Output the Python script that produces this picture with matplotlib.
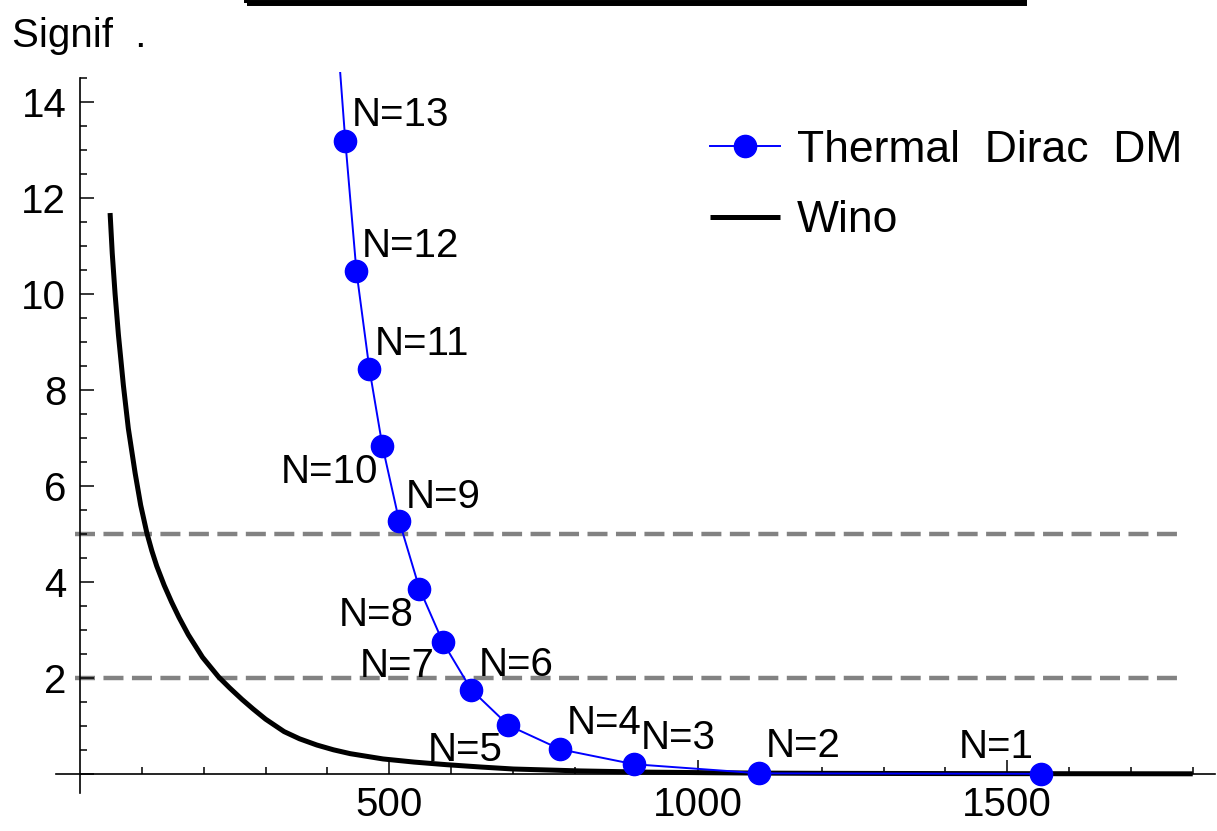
import matplotlib
matplotlib.use("Agg")
import matplotlib.pyplot as plt
from matplotlib.ticker import FixedLocator
from matplotlib.patches import Rectangle

plt.rcParams['font.family'] = ['Liberation Sans', 'DejaVu Sans']
plt.rcParams['lines.scale_dashes'] = False

# Thermal Dirac DM points (mass, significance); last entry lies above the plot range
dirac_labels = ["N=1", "N=2", "N=3", "N=4", "N=5", "N=6", "N=7", "N=8",
                "N=9", "N=10", "N=11", "N=12", "N=13", ""]
dirac_x = [1555, 1099, 896, 777, 693, 633, 587, 549, 516, 489, 468, 447, 429, 411]
dirac_y = [0.0, 0.01, 0.20, 0.51, 1.01, 1.75, 2.74, 3.86, 5.28, 6.84, 8.44, 10.48, 13.20, 16.3]
# label offsets in pixels (dx, dy of baseline relative to the point)
label_dx = [-45, 44, 44, 44, -43, 45, -46, -43, 44, -53, 53, 54, 55, 0]
label_dy = [16, 16, 15, 15, -36, 14, -35, -37, 13, -37, 14, 14, 15, 0]

# Wino curve samples
wino_x = [48.5, 52, 56.6, 62, 70, 78, 89, 98, 108, 116, 124, 136, 148, 160, 175, 198, 224,
          242, 262, 280, 300, 330, 355, 383, 410, 437, 490, 540, 593, 650, 701, 809,
          917, 1000, 1100, 1200, 1400, 1600, 1800]
wino_y = [11.69, 10.85, 10.0, 9.15, 8.1, 7.2, 6.27, 5.6, 5.02, 4.65, 4.33, 3.93, 3.58, 3.26,
          2.90, 2.43, 2.02, 1.79, 1.55, 1.35, 1.14, 0.88, 0.73, 0.6, 0.5, 0.42, 0.31,
          0.245, 0.19, 0.14, 0.10, 0.06, 0.035, 0.025, 0.015, 0.01, 0.005, 0.002, 0.0]

thresholds = [2, 5]
x_ticks = [500, 1000, 1500]
y_ticks = [0, 2, 4, 6, 8, 10, 12, 14]

W, H = 1217, 831
fig = plt.figure(figsize=(W / 100, H / 100), dpi=100)
ax = fig.add_axes([56 / W, 1 - 793 / H, (1215 - 56) / W, (793 - 72) / H])
ax.set_xlim(-39, 1836)
ax.set_ylim(-0.4, 14.63)

# threshold lines
for t in thresholds:
    ax.plot([-8, 1785], [t, t], color='#828282', lw=3.2, dashes=(14.4, 6.1),
            solid_capstyle='butt', dash_capstyle='butt', zorder=1)

# Wino
ax.plot(wino_x, wino_y, color='black', lw=3.6, label='Wino', zorder=3,
        solid_capstyle='butt', solid_joinstyle='round')

# Thermal Dirac DM
ax.plot(dirac_x, dirac_y, color='#0000ff', lw=1.4, marker='o', markersize=16,
        label='Thermal  Dirac  DM', zorder=4)

for lab, x, y, dx, dy in zip(dirac_labels, dirac_x, dirac_y, label_dx, label_dy):
    if lab:
        ax.annotate(lab, (x, y), xytext=(dx, dy), textcoords='offset pixels',
                    ha='center', va='baseline', fontsize=29, zorder=5)

# axes styling (Mathematica-like axes through origin)
for s in ['top', 'right']:
    ax.spines[s].set_visible(False)
ax.spines['left'].set_position(('data', 0))
ax.spines['bottom'].set_position(('data', 0))
ax.spines['left'].set_bounds(-0.4, 14.51)
ax.spines['left'].set_linewidth(1.2)
ax.spines['bottom'].set_linewidth(1.2)

ax.xaxis.set_major_locator(FixedLocator(x_ticks))
ax.xaxis.set_minor_locator(FixedLocator([v for v in range(100, 1801, 100) if v % 500]))
ax.yaxis.set_major_locator(FixedLocator(y_ticks))
ax.yaxis.set_minor_locator(FixedLocator([v / 2 for v in range(1, 30) if v % 4]))
ax.set_yticklabels(['' if v == 0 else str(v) for v in y_ticks])
ax.set_xticklabels([str(v) for v in x_ticks])

ax.tick_params(axis='both', which='major', direction='in', length=10, width=1.1,
               labelsize=29)
ax.tick_params(axis='both', which='minor', direction='in', length=5, width=1.1)
ax.tick_params(axis='y', which='major', pad=10)
ax.tick_params(axis='x', which='major', pad=9)

lines = ax.get_lines()
leg = ax.legend(handles=[lines[-1], lines[-2]],
                loc='upper left', bbox_to_anchor=(710 / W, 1 - 130 / H),
                bbox_transform=fig.transFigure, frameon=False, borderpad=0,
                borderaxespad=0, handlelength=1.58, handletextpad=0.38,
                labelspacing=0.66, fontsize=32)

# y-axis label
fig.text(12 / W, 1 - 47 / H, 'Signif  .', fontsize=29, ha='left', va='baseline')

# cut-off frame at top
fig.add_artist(Rectangle((247 / W, 1 - 3 / H), (1024 - 247) / W, 0.2,
                         transform=fig.transFigure, fill=False, edgecolor='black',
                         linewidth=4.3, clip_on=False))

fig.savefig('out.png', dpi=100)
